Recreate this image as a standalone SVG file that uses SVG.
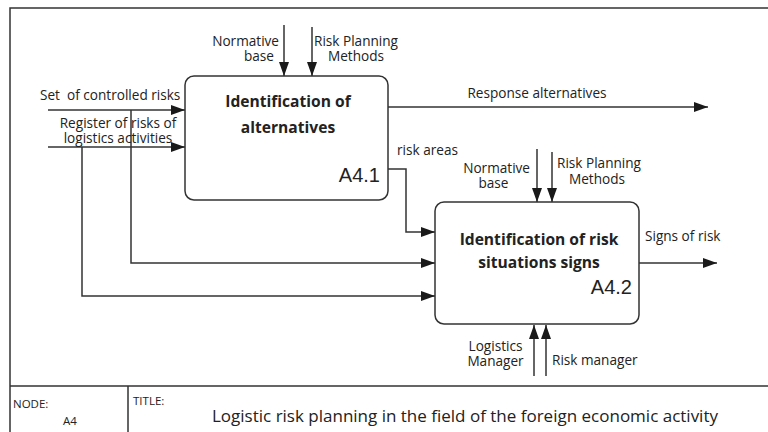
<svg xmlns="http://www.w3.org/2000/svg" width="768" height="432" viewBox="0 0 768 432">
<defs>
<marker id="ah" markerUnits="userSpaceOnUse" markerWidth="15" markerHeight="10" refX="14" refY="5" orient="auto"><path d="M0,0 L14,5 L0,10 z" fill="#1a1a1a"/></marker>
<style>
.ln{fill:none;stroke:#333;stroke-width:1.5}
.ar{fill:none;stroke:#333;stroke-width:1.5;marker-end:url(#ah)}
.box{fill:#fff;stroke:#333;stroke-width:1.5}
.t{font-family:"Open Sans","Noto Sans",sans-serif;font-size:13.6px;fill:#222}
.b{font-family:"Open Sans","Noto Sans",sans-serif;font-size:15.6px;font-weight:bold;fill:#222;text-anchor:middle}
.n{font-family:"Liberation Sans",Arial,sans-serif;font-size:20px;fill:#222;text-anchor:end}
.s{font-family:"Open Sans","Noto Sans",sans-serif;font-size:11.5px;fill:#222}
</style>
</defs>
<rect width="768" height="432" fill="#fff"/>
<g id="frame">
<path class="ln" d="M768,8 H10 V432"/>
<path class="ln" d="M10,386 H768 M128,386 V432"/>
<text class="s" x="13" y="408">NODE:</text>
<text class="s" x="63" y="425">A4</text>
<text class="s" x="133" y="405">TITLE:</text>
<text class="t" x="718" y="422" text-anchor="end" style="font-size:17px">Logistic risk planning in the field of the foreign economic activity</text>
</g>
<g id="connectors">
<path class="ar" d="M284,25 V76"/>
<path class="ar" d="M312,27 V76"/>
<path class="ar" d="M48,110 H185"/>
<path class="ar" d="M48,147 H185"/>
<path class="ar" d="M131,110 V263 H435"/>
<path class="ar" d="M82,147 V296 H435"/>
<path class="ar" d="M388,169 H406 V232 H435"/>
<path class="ar" d="M388,107 H708"/>
<path class="ar" d="M639,263 H717"/>
<path class="ar" d="M537,149 V202"/>
<path class="ar" d="M552,152 V202"/>
<path class="ar" d="M534,376 V325"/>
<path class="ar" d="M546,376 V325"/>
<text class="t" x="279" y="46" text-anchor="end">Normative</text>
<text class="t" x="259" y="61" text-anchor="middle">base</text>
<text class="t" x="314" y="46">Risk Planning</text>
<text class="t" x="356" y="61" text-anchor="middle">Methods</text>
<text class="t" x="40" y="100">Set&#160; of controlled risks</text>
<text class="t" x="118" y="128" text-anchor="middle">Register of risks of</text>
<text class="t" x="118" y="142.5" text-anchor="middle">logistics activities</text>
<text class="t" x="537" y="98" text-anchor="middle">Response alternatives</text>
<text class="t" x="397" y="155">risk areas</text>
<text class="t" x="530" y="173" text-anchor="end">Normative</text>
<text class="t" x="493.5" y="188" text-anchor="middle">base</text>
<text class="t" x="557" y="168">Risk Planning</text>
<text class="t" x="597" y="184" text-anchor="middle">Methods</text>
<text class="t" x="645" y="241">Signs of risk</text>
<text class="t" x="495.5" y="351" text-anchor="middle">Logistics</text>
<text class="t" x="495.5" y="366" text-anchor="middle">Manager</text>
<text class="t" x="552" y="365">Risk manager</text>
</g>
<g id="A4.1">
<rect class="box" x="185" y="76" width="203" height="124" rx="9"/>
<text class="b" x="288" y="107">Identification of</text>
<text class="b" x="288" y="132.5">alternatives</text>
<text class="n" x="380" y="182">A4.1</text>
</g>
<g id="A4.2">
<rect class="box" x="435" y="202" width="204" height="122" rx="9"/>
<text class="b" x="539" y="245">Identification of risk</text>
<text class="b" x="539" y="268">situations signs</text>
<text class="n" x="632" y="294">A4.2</text>
</g>
</svg>
